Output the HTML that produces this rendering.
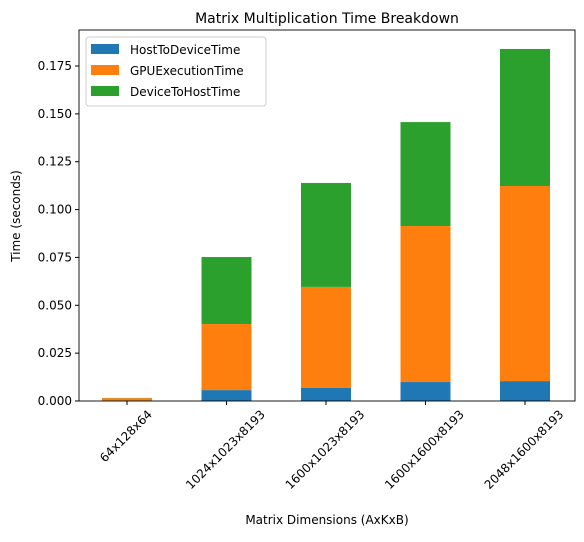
<!DOCTYPE html>
<html><head><meta charset="utf-8"><style>
body{margin:0;background:#fff;}
svg text{font-family:"DejaVu Sans","Liberation Sans",sans-serif;fill:#000;}
</style></head><body>
<svg id="chart" width="584" height="537" xmlns="http://www.w3.org/2000/svg">
<rect width="584" height="537" fill="#fff"/>
<text x="327" y="23" font-size="14" text-anchor="middle">Matrix Multiplication Time Breakdown</text>
<text x="327" y="524" font-size="12" text-anchor="middle">Matrix Dimensions (AxKxB)</text>
<text transform="translate(20,216) rotate(-90)" font-size="12" text-anchor="middle">Time (seconds)</text>
<g id="bars"></g>
<g id="axes"></g>
<g id="legend"></g>
</svg>
<script>
const categories=["64x128x64","1024x1023x8193","1600x1023x8193","1600x1600x8193","2048x1600x8193"];
const hostToDevice=[0.0003,0.0057,0.0068,0.0099,0.0104];
const gpuExecution=[0.0012,0.0345,0.0528,0.0815,0.1019];
const deviceToHost=[0.0001,0.0350,0.0543,0.0543,0.0716];
const yTicks=[0,0.025,0.05,0.075,0.1,0.125,0.15,0.175];
const yTickLabels=["0.000","0.025","0.050","0.075","0.100","0.125","0.150","0.175"];
const seriesNames=["HostToDeviceTime","GPUExecutionTime","DeviceToHostTime"];
const colors=["#1f77b4","#ff7f0e","#2ca02c"];
const NS="http://www.w3.org/2000/svg";
const L=79,R=575,T=30,B=401;
const y=v=>B-v*(335/0.175);
const x=i=>127+i*99.5;
const bw=50;
function mk(tag,attrs,parent){const e=document.createElementNS(NS,tag);for(const k in attrs)e.setAttribute(k,attrs[k]);parent.appendChild(e);return e;}
const bars=document.getElementById('bars'),axes=document.getElementById('axes'),leg=document.getElementById('legend');
const series=[hostToDevice,gpuExecution,deviceToHost];
categories.forEach((c,i)=>{let base=0;series.forEach((s,k)=>{const v=s[i];
const r=mk('rect',{x:x(i)-bw/2,y:y(base+v),width:bw,height:y(base)-y(base+v),fill:colors[k]},bars);


base+=v;});
mk('line',{x1:x(i),x2:x(i),y1:B,y2:B+4,stroke:'#000'},axes);
const t=mk('text',{x:0,y:0,'font-size':12,'text-anchor':'middle','dominant-baseline':'central'},axes);
t.textContent=c;


const len=t.getComputedTextLength();
const cy=B+7+(len+12)*0.7071/2;
t.setAttribute('transform',`translate(${x(i)-1},${cy}) rotate(-45)`);
});
yTicks.forEach((v,i)=>{mk('line',{x1:L-4,x2:L,y1:y(v),y2:y(v),stroke:'#000'},axes);
const t=mk('text',{x:L-7,y:y(v)+4,'font-size':12,'text-anchor':'end'},axes);t.textContent=yTickLabels[i];

});
mk('rect',{x:L,y:T,width:R-L,height:B-T,fill:'none',stroke:'#000','stroke-width':0.9},axes);
mk('rect',{x:86,y:37,width:180,height:69,fill:'#fff',stroke:'#ccc',rx:3},leg);
seriesNames.forEach((n,k)=>{const g=mk('g',{},leg);


mk('rect',{x:91,y:44+k*21,width:28,height:10,fill:colors[k]},g);
const t=mk('text',{x:130,y:54+k*21,'font-size':12},g);t.textContent=n;});
</script>
</body></html>
